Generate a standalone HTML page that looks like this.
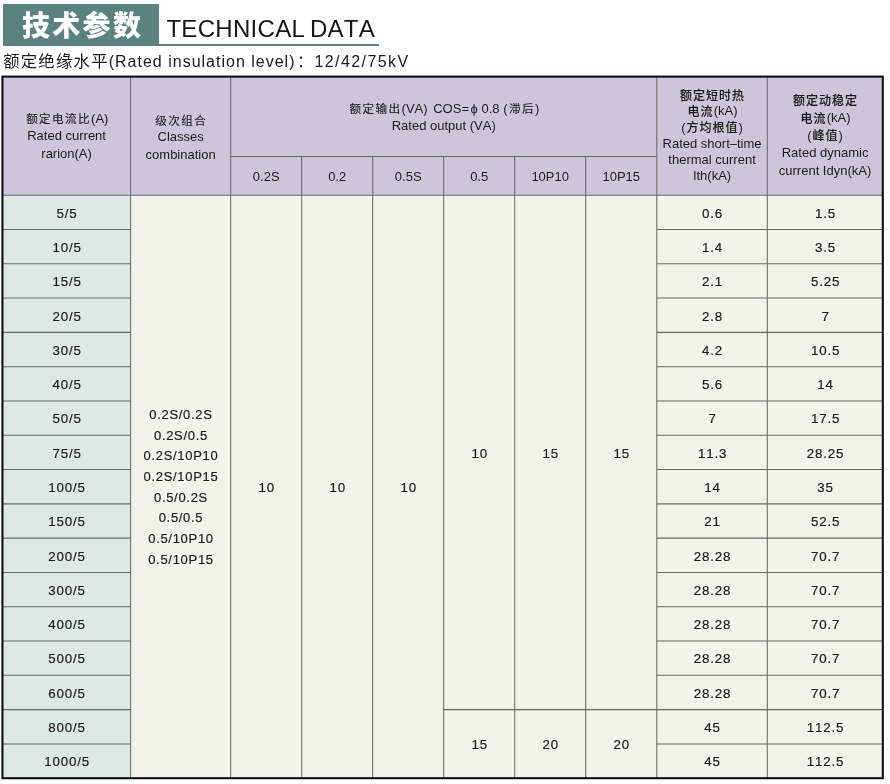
<!DOCTYPE html>
<html lang="zh-CN">
<head>
<meta charset="utf-8">
<title>技术参数 TECHNICAL DATA</title>
<style>
html,body{margin:0;padding:0;background:#fff;}
body{width:890px;height:784px;position:relative;overflow:hidden;font-family:"Liberation Sans","Noto Sans CJK SC",sans-serif;color:#1c1c1c;font-kerning:none;}
.grid{position:absolute;left:0;top:0;display:block;}
.layer{position:absolute;left:0;top:0;width:890px;height:784px;will-change:transform;}
.tag{position:absolute;left:3px;top:4px;width:156px;height:42px;background:#5a827f;}
.tag span{position:absolute;left:19px;top:1.7px;line-height:42px;font-size:28px;font-weight:900;color:#fff;letter-spacing:2.3px;white-space:nowrap;font-family:"Liberation Sans","Noto Sans CJK SC",sans-serif;}
.rule{position:absolute;left:3px;top:43.5px;width:375.5px;height:2.7px;background:#5a827f;}
.en{position:absolute;left:166.4px;top:14px;font-size:24px;line-height:30px;color:#161616;white-space:nowrap;letter-spacing:.3px;word-spacing:-2.2px;font-kerning:none;}
.sub{position:absolute;left:3.2px;top:48.7px;font-size:16px;line-height:24px;color:#1a1a1a;white-space:nowrap;letter-spacing:1px;}
.sub .z{font-size:16.4px;letter-spacing:1.2px;}
.sub .k{margin-left:1.5px;margin-right:-1.5px;}
.sub .n{letter-spacing:1.4px;margin-left:2px;}
.c{position:absolute;display:flex;align-items:center;justify-content:center;text-align:center;white-space:nowrap;}
.h{font-size:13px;line-height:17.5px;}
.h .z{position:relative;top:.7px;line-height:1;font-size:11.6px;letter-spacing:1.4px;font-weight:400;margin-left:1.4px;-webkit-text-stroke:.12px #1c1c1c;}
.h .cos{margin-left:2px;margin-right:-2px;}
.h9{line-height:16.2px;}
.h9 .z,.h10 .z{font-size:12px;letter-spacing:1px;font-weight:500;margin-left:1px;}
.h10{line-height:17.7px;}
.b{font-size:13.3px;line-height:18px;letter-spacing:.85px;-webkit-text-stroke:.2px #1c1c1c;}
.b>div{padding-left:1px;}
.cls{font-size:13px;line-height:20.65px;letter-spacing:.7px;}
.cls>div{padding-left:.7px;}
</style>
</head>
<body>
<svg class="grid" width="890" height="784" viewBox="0 0 890 784">
<rect x="2.45" y="76.6" width="880.35" height="118.60" fill="#cbc6da"/>
<rect x="2.45" y="195.2" width="128.15" height="583.00" fill="#dee8e4"/>
<rect x="130.6" y="195.2" width="752.20" height="583.00" fill="#f2f3ea"/>
<g stroke="#686a64" stroke-width="1.05" fill="none">
<line x1="130.6" y1="76.6" x2="130.6" y2="778.2"/>
<line x1="230.7" y1="76.6" x2="230.7" y2="778.2"/>
<line x1="301.7" y1="156.5" x2="301.7" y2="778.2"/>
<line x1="372.7" y1="156.5" x2="372.7" y2="778.2"/>
<line x1="443.7" y1="156.5" x2="443.7" y2="778.2"/>
<line x1="514.7" y1="156.5" x2="514.7" y2="778.2"/>
<line x1="585.7" y1="156.5" x2="585.7" y2="778.2"/>
<line x1="656.8" y1="76.6" x2="656.8" y2="778.2"/>
<line x1="767.3" y1="76.6" x2="767.3" y2="778.2"/>
<line x1="230.7" y1="156.5" x2="656.8" y2="156.5"/>
<line x1="2.45" y1="195.2" x2="882.8" y2="195.2"/>
<line x1="2.45" y1="229.49" x2="130.6" y2="229.49"/>
<line x1="656.8" y1="229.49" x2="882.8" y2="229.49"/>
<line x1="2.45" y1="263.79" x2="130.6" y2="263.79"/>
<line x1="656.8" y1="263.79" x2="882.8" y2="263.79"/>
<line x1="2.45" y1="298.08" x2="130.6" y2="298.08"/>
<line x1="656.8" y1="298.08" x2="882.8" y2="298.08"/>
<line x1="2.45" y1="332.38" x2="130.6" y2="332.38"/>
<line x1="656.8" y1="332.38" x2="882.8" y2="332.38"/>
<line x1="2.45" y1="366.67" x2="130.6" y2="366.67"/>
<line x1="656.8" y1="366.67" x2="882.8" y2="366.67"/>
<line x1="2.45" y1="400.96" x2="130.6" y2="400.96"/>
<line x1="656.8" y1="400.96" x2="882.8" y2="400.96"/>
<line x1="2.45" y1="435.26" x2="130.6" y2="435.26"/>
<line x1="656.8" y1="435.26" x2="882.8" y2="435.26"/>
<line x1="2.45" y1="469.55" x2="130.6" y2="469.55"/>
<line x1="656.8" y1="469.55" x2="882.8" y2="469.55"/>
<line x1="2.45" y1="503.85" x2="130.6" y2="503.85"/>
<line x1="656.8" y1="503.85" x2="882.8" y2="503.85"/>
<line x1="2.45" y1="538.14" x2="130.6" y2="538.14"/>
<line x1="656.8" y1="538.14" x2="882.8" y2="538.14"/>
<line x1="2.45" y1="572.44" x2="130.6" y2="572.44"/>
<line x1="656.8" y1="572.44" x2="882.8" y2="572.44"/>
<line x1="2.45" y1="606.73" x2="130.6" y2="606.73"/>
<line x1="656.8" y1="606.73" x2="882.8" y2="606.73"/>
<line x1="2.45" y1="641.02" x2="130.6" y2="641.02"/>
<line x1="656.8" y1="641.02" x2="882.8" y2="641.02"/>
<line x1="2.45" y1="675.32" x2="130.6" y2="675.32"/>
<line x1="656.8" y1="675.32" x2="882.8" y2="675.32"/>
<line x1="2.45" y1="709.61" x2="130.6" y2="709.61"/>
<line x1="656.8" y1="709.61" x2="882.8" y2="709.61"/>
<line x1="2.45" y1="743.91" x2="130.6" y2="743.91"/>
<line x1="656.8" y1="743.91" x2="882.8" y2="743.91"/>
<line x1="443.7" y1="709.61" x2="656.8" y2="709.61"/>
</g>
<rect x="2.45" y="76.6" width="880.35" height="701.60" fill="none" stroke="#0c0c0c" stroke-width="2.05"/>
</svg>
<div class="layer">
<div class="tag"><span>技术参数</span></div>
<div class="rule"></div>
<div class="en">TECHNICAL DATA</div>
<div class="sub"><span class="z">额定绝缘水平</span><span class="e">(Rated insulation level)</span><span class="k">：</span><span class="n">12/42/75kV</span></div>
<div class="c h" style="left:2.5px;top:76.7px;width:128.2px;height:118.6px"><div><span class="z">额定电流比</span>(A)<br>Rated current<br>rarion(A)</div></div>
<div class="c h" style="left:130.6px;top:77.9px;width:100.1px;height:118.6px"><div><span class="z">级次组合</span><br>Classes<br>combination</div></div>
<div class="c h" style="left:230.7px;top:77.1px;width:426.1px;height:79.9px"><div><span class="z">额定输出</span>(VA) <span class="cos">COS=</span> ϕ 0.8 (<span class="z">滞后</span>)<br>Rated output (VA)</div></div>
<div class="c h" style="left:230.7px;top:157.5px;width:71.0px;height:38.7px"><div>0.2S</div></div>
<div class="c h" style="left:301.7px;top:157.5px;width:71.0px;height:38.7px"><div>0.2</div></div>
<div class="c h" style="left:372.7px;top:157.5px;width:71.0px;height:38.7px"><div>0.5S</div></div>
<div class="c h" style="left:443.7px;top:157.5px;width:71.0px;height:38.7px"><div>0.5</div></div>
<div class="c h" style="left:514.7px;top:157.5px;width:71.0px;height:38.7px"><div>10P10</div></div>
<div class="c h" style="left:585.7px;top:157.5px;width:71.1px;height:38.7px"><div>10P15</div></div>
<div class="c h h9" style="left:656.8px;top:76.6px;width:110.5px;height:118.6px"><div><span class="z">额定短时热</span><br><span class="z">电流</span>(kA)<br>(<span class="z">方均根值</span>)<br>Rated short–time<br>thermal current<br>Ith(kA)</div></div>
<div class="c h h10" style="left:767.3px;top:76.1px;width:115.5px;height:118.6px"><div><span class="z">额定动稳定</span><br><span class="z">电流</span>(kA)<br>(<span class="z">峰值</span>)<br>Rated dynamic<br>current Idyn(kA)</div></div>
<div class="c b" style="left:2.5px;top:196.5px;width:128.2px;height:34.3px"><div>5/5</div></div>
<div class="c b" style="left:656.8px;top:196.5px;width:110.5px;height:34.3px"><div>0.6</div></div>
<div class="c b" style="left:767.3px;top:196.5px;width:115.5px;height:34.3px"><div>1.5</div></div>
<div class="c b" style="left:2.5px;top:230.8px;width:128.2px;height:34.3px"><div>10/5</div></div>
<div class="c b" style="left:656.8px;top:230.8px;width:110.5px;height:34.3px"><div>1.4</div></div>
<div class="c b" style="left:767.3px;top:230.8px;width:115.5px;height:34.3px"><div>3.5</div></div>
<div class="c b" style="left:2.5px;top:265.1px;width:128.2px;height:34.3px"><div>15/5</div></div>
<div class="c b" style="left:656.8px;top:265.1px;width:110.5px;height:34.3px"><div>2.1</div></div>
<div class="c b" style="left:767.3px;top:265.1px;width:115.5px;height:34.3px"><div>5.25</div></div>
<div class="c b" style="left:2.5px;top:299.4px;width:128.2px;height:34.3px"><div>20/5</div></div>
<div class="c b" style="left:656.8px;top:299.4px;width:110.5px;height:34.3px"><div>2.8</div></div>
<div class="c b" style="left:767.3px;top:299.4px;width:115.5px;height:34.3px"><div>7</div></div>
<div class="c b" style="left:2.5px;top:333.7px;width:128.2px;height:34.3px"><div>30/5</div></div>
<div class="c b" style="left:656.8px;top:333.7px;width:110.5px;height:34.3px"><div>4.2</div></div>
<div class="c b" style="left:767.3px;top:333.7px;width:115.5px;height:34.3px"><div>10.5</div></div>
<div class="c b" style="left:2.5px;top:368.0px;width:128.2px;height:34.3px"><div>40/5</div></div>
<div class="c b" style="left:656.8px;top:368.0px;width:110.5px;height:34.3px"><div>5.6</div></div>
<div class="c b" style="left:767.3px;top:368.0px;width:115.5px;height:34.3px"><div>14</div></div>
<div class="c b" style="left:2.5px;top:402.3px;width:128.2px;height:34.3px"><div>50/5</div></div>
<div class="c b" style="left:656.8px;top:402.3px;width:110.5px;height:34.3px"><div>7</div></div>
<div class="c b" style="left:767.3px;top:402.3px;width:115.5px;height:34.3px"><div>17.5</div></div>
<div class="c b" style="left:2.5px;top:436.6px;width:128.2px;height:34.3px"><div>75/5</div></div>
<div class="c b" style="left:656.8px;top:436.6px;width:110.5px;height:34.3px"><div>11.3</div></div>
<div class="c b" style="left:767.3px;top:436.6px;width:115.5px;height:34.3px"><div>28.25</div></div>
<div class="c b" style="left:2.5px;top:470.9px;width:128.2px;height:34.3px"><div>100/5</div></div>
<div class="c b" style="left:656.8px;top:470.9px;width:110.5px;height:34.3px"><div>14</div></div>
<div class="c b" style="left:767.3px;top:470.9px;width:115.5px;height:34.3px"><div>35</div></div>
<div class="c b" style="left:2.5px;top:505.1px;width:128.2px;height:34.3px"><div>150/5</div></div>
<div class="c b" style="left:656.8px;top:505.1px;width:110.5px;height:34.3px"><div>21</div></div>
<div class="c b" style="left:767.3px;top:505.1px;width:115.5px;height:34.3px"><div>52.5</div></div>
<div class="c b" style="left:2.5px;top:539.4px;width:128.2px;height:34.3px"><div>200/5</div></div>
<div class="c b" style="left:656.8px;top:539.4px;width:110.5px;height:34.3px"><div>28.28</div></div>
<div class="c b" style="left:767.3px;top:539.4px;width:115.5px;height:34.3px"><div>70.7</div></div>
<div class="c b" style="left:2.5px;top:573.7px;width:128.2px;height:34.3px"><div>300/5</div></div>
<div class="c b" style="left:656.8px;top:573.7px;width:110.5px;height:34.3px"><div>28.28</div></div>
<div class="c b" style="left:767.3px;top:573.7px;width:115.5px;height:34.3px"><div>70.7</div></div>
<div class="c b" style="left:2.5px;top:608.0px;width:128.2px;height:34.3px"><div>400/5</div></div>
<div class="c b" style="left:656.8px;top:608.0px;width:110.5px;height:34.3px"><div>28.28</div></div>
<div class="c b" style="left:767.3px;top:608.0px;width:115.5px;height:34.3px"><div>70.7</div></div>
<div class="c b" style="left:2.5px;top:642.3px;width:128.2px;height:34.3px"><div>500/5</div></div>
<div class="c b" style="left:656.8px;top:642.3px;width:110.5px;height:34.3px"><div>28.28</div></div>
<div class="c b" style="left:767.3px;top:642.3px;width:115.5px;height:34.3px"><div>70.7</div></div>
<div class="c b" style="left:2.5px;top:676.6px;width:128.2px;height:34.3px"><div>600/5</div></div>
<div class="c b" style="left:656.8px;top:676.6px;width:110.5px;height:34.3px"><div>28.28</div></div>
<div class="c b" style="left:767.3px;top:676.6px;width:115.5px;height:34.3px"><div>70.7</div></div>
<div class="c b" style="left:2.5px;top:710.9px;width:128.2px;height:34.3px"><div>800/5</div></div>
<div class="c b" style="left:656.8px;top:710.9px;width:110.5px;height:34.3px"><div>45</div></div>
<div class="c b" style="left:767.3px;top:710.9px;width:115.5px;height:34.3px"><div>112.5</div></div>
<div class="c b" style="left:2.5px;top:745.2px;width:128.2px;height:34.3px"><div>1000/5</div></div>
<div class="c b" style="left:656.8px;top:745.2px;width:110.5px;height:34.3px"><div>45</div></div>
<div class="c b" style="left:767.3px;top:745.2px;width:115.5px;height:34.3px"><div>112.5</div></div>
<div class="c b cls" style="left:130.6px;top:196.2px;width:100.1px;height:583.0px"><div>0.2S/0.2S<br>0.2S/0.5<br>0.2S/10P10<br>0.2S/10P15<br>0.5/0.2S<br>0.5/0.5<br>0.5/10P10<br>0.5/10P15</div></div>
<div class="c b" style="left:230.7px;top:196.6px;width:71.0px;height:583.0px"><div>10</div></div>
<div class="c b" style="left:301.7px;top:196.6px;width:71.0px;height:583.0px"><div>10</div></div>
<div class="c b" style="left:372.7px;top:196.6px;width:71.0px;height:583.0px"><div>10</div></div>
<div class="c b" style="left:443.7px;top:196.7px;width:71.0px;height:514.4px"><div>10</div></div>
<div class="c b" style="left:514.7px;top:196.7px;width:71.0px;height:514.4px"><div>15</div></div>
<div class="c b" style="left:585.7px;top:196.7px;width:71.1px;height:514.4px"><div>15</div></div>
<div class="c b" style="left:443.7px;top:711.0px;width:71.0px;height:68.6px"><div>15</div></div>
<div class="c b" style="left:514.7px;top:711.0px;width:71.0px;height:68.6px"><div>20</div></div>
<div class="c b" style="left:585.7px;top:711.0px;width:71.1px;height:68.6px"><div>20</div></div>
</div>
</body>
</html>
